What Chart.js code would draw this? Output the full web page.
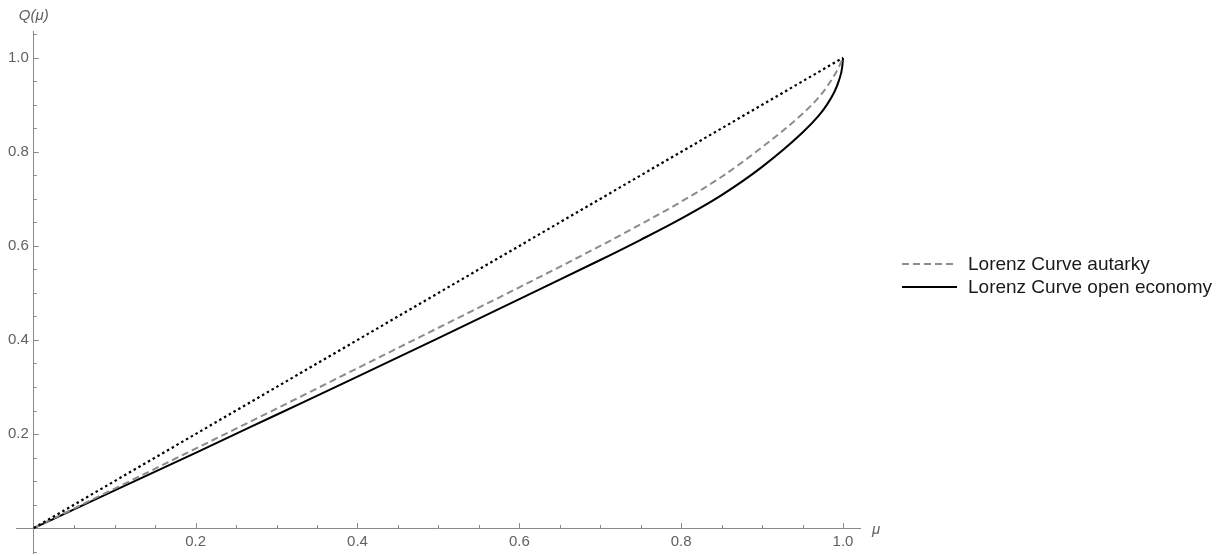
<!DOCTYPE html>
<html>
<head>
<meta charset="utf-8">
<title>Lorenz curves</title>
<script src="https://cdn.jsdelivr.net/npm/chart.js@4.4.1/dist/chart.umd.min.js"></script>
<style>
  html, body { margin: 0; padding: 0; background: #fff; }
  #wrap { position: relative; width: 1227px; height: 556px; }
  #legend {
    position: absolute; left: 902px; top: 252px;
    font-family: "Liberation Sans", Arial, sans-serif; font-size: 19px; color: #1a1a1a;
  }
  .row { display: flex; align-items: center; height: 23px; white-space: nowrap; }
  .row svg { width: 55px; height: 10px; margin-right: 11px; flex: none; }
</style>
</head>
<body>
<div id="wrap">
  <canvas id="chart"></canvas>
  <div id="legend"></div>
</div>
<script>
// line of perfect equality
const equalityX = [0, 1];
const equalityY = [0, 1];

// Lorenz curve, autarky (dashed grey)
const autarkyX = [0, 0.1, 0.2, 0.3, 0.4, 0.5, 0.6, 0.7, 0.75, 0.8, 0.85, 0.9, 0.95, 0.97, 0.98, 0.99, 0.995, 1];
const autarkyY = [0, 0.084, 0.169, 0.254, 0.34, 0.426, 0.512, 0.6, 0.646, 0.694, 0.747, 0.81, 0.881, 0.916, 0.938, 0.965, 0.981, 1];

// Lorenz curve, open economy (solid black)
const openX = [0, 0.1, 0.2, 0.3, 0.4, 0.5, 0.6, 0.7, 0.75, 0.8, 0.85, 0.9, 0.95, 0.97, 0.98, 0.99, 0.995, 0.999, 1];
const openY = [0, 0.08, 0.16, 0.241, 0.322, 0.404, 0.487, 0.57, 0.613, 0.658, 0.708, 0.768, 0.841, 0.877, 0.9, 0.93, 0.952, 0.98, 1];

const seriesNames = ["Lorenz Curve autarky", "Lorenz Curve open economy"];

const xTickValues = [0.2, 0.4, 0.6, 0.8, 1.0];
const xTickLabels = ["0.2", "0.4", "0.6", "0.8", "1.0"];
const yTickValues = [0.2, 0.4, 0.6, 0.8, 1.0];
const yTickLabels = ["0.2", "0.4", "0.6", "0.8", "1.0"];
const minorStep = 0.05;

const xAxisTitle = "\u03bc";
const yAxisTitle = "Q(\u03bc)";

const axisColor = "#8a8a8a";
const labelColor = "#616161";
const fontFamily = '"Liberation Sans", Arial, sans-serif';

const toPoints = (xs, ys) => xs.map((x, i) => ({ x, y: ys[i] }));

// axes cross at (0,0) inside the plot: tick marks point inward, labels sit outside,
// so ticks, tick labels and axis titles are drawn here from the chart's own scales
const axisDecor = {
  id: "axisDecor",
  afterDraw(chart) {
    const { ctx, scales: { x, y } } = chart;
    const x0 = x.getPixelForValue(0);
    const y0 = y.getPixelForValue(0);
    const isMajor = (v) => Math.abs(v * 5 - Math.round(v * 5)) < 1e-9;

    ctx.save();
    ctx.strokeStyle = axisColor;
    ctx.lineWidth = 1;
    ctx.beginPath();
    for (let k = Math.ceil(x.min / minorStep); k * minorStep <= x.max; k++) {
      if (k === 0) continue;
      const v = k * minorStep;
      const px = Math.round(x.getPixelForValue(v)) + 0.5;
      const len = isMajor(v) ? 5 : 3;
      ctx.moveTo(px, y0);
      ctx.lineTo(px, y0 - len);
    }
    for (let k = Math.ceil(y.min / minorStep); k * minorStep <= y.max; k++) {
      if (k === 0) continue;
      const v = k * minorStep;
      const py = Math.round(y.getPixelForValue(v)) + 0.5;
      const len = isMajor(v) ? 5 : 3;
      ctx.moveTo(x0, py);
      ctx.lineTo(x0 + len, py);
    }
    ctx.stroke();

    ctx.fillStyle = labelColor;
    ctx.font = "15px " + fontFamily;
    ctx.textBaseline = "middle";
    ctx.textAlign = "right";
    yTickValues.forEach((v, i) => {
      ctx.fillText(yTickLabels[i], x0 - 5, y.getPixelForValue(v));
    });
    ctx.textAlign = "center";
    xTickValues.forEach((v, i) => {
      ctx.fillText(xTickLabels[i], x.getPixelForValue(v), y0 + 14);
    });

    ctx.font = "italic 15px " + fontFamily;
    ctx.textAlign = "center";
    ctx.fillText(yAxisTitle, x0, 16);
    ctx.textAlign = "left";
    ctx.fillText(xAxisTitle, x.right + 12, y0 + 2);
    ctx.restore();
  },
};

new Chart(document.getElementById("chart"), {
  type: "line",
  data: {
    datasets: [
      {
        label: "equality",
        data: toPoints(equalityX, equalityY),
        borderColor: "#000",
        borderWidth: 2.2,
        borderDash: [2.5, 3],
        tension: 0,
      },
      {
        label: seriesNames[0],
        data: toPoints(autarkyX, autarkyY),
        borderColor: "#8c8c8c",
        borderWidth: 2,
        borderDash: [7, 4],
        cubicInterpolationMode: "monotone",
      },
      {
        label: seriesNames[1],
        data: toPoints(openX, openY),
        borderColor: "#000",
        borderWidth: 2,
        cubicInterpolationMode: "monotone",
      },
    ],
  },
  options: {
    responsive: true,
    maintainAspectRatio: false,
    animation: false,
    events: [],
    elements: { point: { radius: 0 } },
    layout: { padding: { left: 16, right: 367, top: 31, bottom: 3 } },
    plugins: {
      legend: { display: false },
      tooltip: { enabled: false },
    },
    scales: {
      x: {
        type: "linear",
        min: -0.022,
        max: 1.021,
        position: { y: 0 },
        grid: { drawOnChartArea: false, drawTicks: false },
        border: { display: true, color: axisColor, width: 1 },
        ticks: { display: false },
      },
      y: {
        type: "linear",
        min: -0.053,
        max: 1.057,
        position: { x: 0 },
        grid: { drawOnChartArea: false, drawTicks: false },
        border: { display: true, color: axisColor, width: 1 },
        ticks: { display: false },
      },
    },
  },
  plugins: [axisDecor],
});

// legend to the right of the plot
const legendEl = document.getElementById("legend");
const legendStyles = [
  { color: "#8c8c8c", dash: "7 4" },
  { color: "#000", dash: "" },
];
legendEl.innerHTML = seriesNames
  .map(
    (name, i) => `
    <div class="row">
      <svg viewBox="0 0 55 10"><line x1="0" y1="5" x2="55" y2="5" stroke="${legendStyles[i].color}" stroke-width="2" stroke-dasharray="${legendStyles[i].dash}"/></svg>
      <span>${name}</span>
    </div>`
  )
  .join("");
</script>
</body>
</html>
